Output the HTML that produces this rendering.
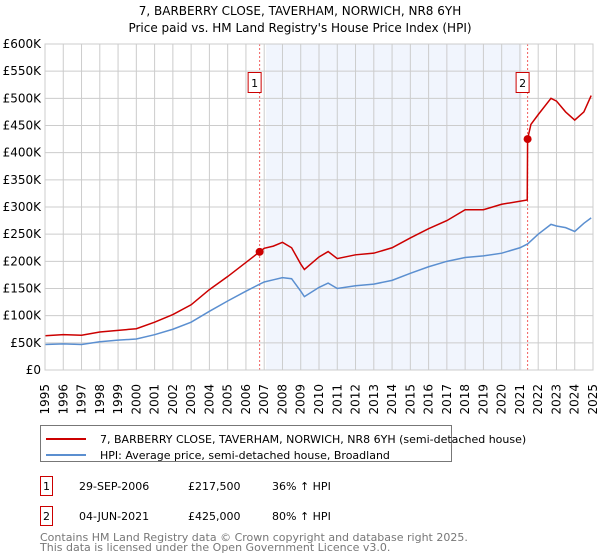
<!DOCTYPE html>
<html><head><meta charset="utf-8"><style>
body{margin:0;background:#fff;}
svg{display:block;font-family:"DejaVu Sans","Liberation Sans",sans-serif;}
</style></head><body>
<svg id="chart" width="600" height="560" viewBox="0 0 600 560">
<text x="300" y="15" text-anchor="middle" font-size="12">7, BARBERRY CLOSE, TAVERHAM, NORWICH, NR8 6YH</text>
<text x="300" y="32" text-anchor="middle" font-size="12">Price paid vs. HM Land Registry's House Price Index (HPI)</text>
<g id="grid"></g><g id="series"></g><g id="axes"></g>
<g>
<rect x="40.5" y="425.5" width="411" height="36" fill="#fff" stroke="#777"/>
<line x1="46" y1="439" x2="86" y2="439" stroke="#cc0000" stroke-width="2"/>
<text x="100" y="443" font-size="11">7, BARBERRY CLOSE, TAVERHAM, NORWICH, NR8 6YH (semi-detached house)</text>
<line x1="46" y1="455" x2="86" y2="455" stroke="#5b8fd0" stroke-width="2"/>
<text x="100" y="459" font-size="11">HPI: Average price, semi-detached house, Broadland</text>
</g>
<g font-size="11">
<rect x="40.5" y="476.5" width="12" height="19" fill="#fff" stroke="#cc0000"/><text x="46.5" y="490" text-anchor="middle">1</text>
<text x="79" y="490">29-SEP-2006</text><text x="188" y="490">£217,500</text><text x="272" y="490">36% ↑ HPI</text>
<rect x="40.5" y="506.5" width="12" height="19" fill="#fff" stroke="#cc0000"/><text x="46.5" y="520" text-anchor="middle">2</text>
<text x="79" y="520">04-JUN-2021</text><text x="188" y="520">£425,000</text><text x="272" y="520">80% ↑ HPI</text>
</g>
<text x="40" y="541" font-size="11" fill="#777">Contains HM Land Registry data © Crown copyright and database right 2025.</text>
<text x="40" y="551" font-size="11" fill="#777">This data is licensed under the Open Government Licence v3.0.</text>
</svg>
<script>
const hpiYears=[1995,1996,1997,1998,1999,2000,2001,2002,2003,2004,2005,2006,2006.75,2007,2007.5,2008,2008.5,2009,2009.2,2010,2010.5,2011,2012,2013,2014,2015,2016,2017,2018,2019,2020,2021,2021.42,2022,2022.7,2023,2023.5,2024,2024.5,2024.9];
const hpiValues=[47000,48000,47000,52000,55000,57000,65000,75000,88000,108000,127000,145000,158000,162000,166000,170000,168000,145000,135000,152000,160000,150000,155000,158000,165000,178000,190000,200000,207000,210000,215000,225000,232000,250000,268000,265000,262000,255000,270000,280000];
const propYears=[1995,1996,1997,1998,1999,2000,2001,2002,2003,2004,2005,2006,2006.75,2007,2007.5,2008,2008.5,2009,2009.2,2010,2010.5,2011,2012,2013,2014,2015,2016,2017,2018,2019,2020,2021.4,2021.42,2021.6,2022,2022.7,2023,2023.5,2024,2024.5,2024.9];
const propValues=[63000,65000,64000,70000,73000,76000,88000,102000,120000,148000,172000,198000,217500,224000,228000,235000,225000,195000,185000,208000,218000,205000,212000,215000,225000,243000,260000,275000,295000,295000,305000,313000,425000,452000,470000,500000,495000,475000,460000,475000,505000];
const saleYears=[2006.75,2021.42];
const saleValues=[217500,425000];
const saleLabels=["1","2"];
const yTicks=[0,50000,100000,150000,200000,250000,300000,350000,400000,450000,500000,550000,600000];
const yTickLabels=["£0","£50K","£100K","£150K","£200K","£250K","£300K","£350K","£400K","£450K","£500K","£550K","£600K"];
const xTicks=[1995,1996,1997,1998,1999,2000,2001,2002,2003,2004,2005,2006,2007,2008,2009,2010,2011,2012,2013,2014,2015,2016,2017,2018,2019,2020,2021,2022,2023,2024,2025];
const X0=45,X1=593,Y0=370,Y1=44;
const xs=y=>X0+(y-1995)/30*(X1-X0);
const ys=v=>Y0-v/600000*(Y0-Y1);
const NS="http://www.w3.org/2000/svg";
function mk(tag,attrs,parent,txt){const e=document.createElementNS(NS,tag);for(const k in attrs)e.setAttribute(k,attrs[k]);if(txt!==undefined)e.textContent=txt;parent.appendChild(e);return e;}
const grid=document.getElementById('grid'),ser=document.getElementById('series'),ax=document.getElementById('axes');
const shade=mk('rect',{x:xs(2007.1),y:Y1,width:xs(2021.1)-xs(2007.1),height:Y0-Y1,fill:'#eef3fc',opacity:0.8},grid);


xTicks.forEach(t=>{const l=mk('line',{x1:xs(t),x2:xs(t),y1:Y1,y2:Y0,stroke:'#ccc'},grid);


const tx0=xs(t)+4,ty0=384;
const tx=mk('text',{x:tx0,y:ty0,'font-size':12,'text-anchor':'end',transform:'rotate(-90,'+tx0+','+ty0+')'},ax,String(t));

});
yTicks.forEach((t,i)=>{const l=mk('line',{x1:X0,x2:X1,y1:ys(t),y2:ys(t),stroke:'#ccc'},grid);


const tx=mk('text',{x:X0-4,y:ys(t)+4,'font-size':12,'text-anchor':'end'},ax,yTickLabels[i]);

});
saleYears.forEach((s,i)=>{const l=mk('line',{x1:xs(s),x2:xs(s),y1:Y1,y2:Y0,stroke:'#f06060','stroke-dasharray':'2,2'},grid);


const b=mk('rect',{x:xs(s)-11.5,y:72.5,width:13,height:20,fill:'#fff',stroke:'#cc0000'},ax);


const t=mk('text',{x:xs(s)-5,y:87,'font-size':11,'text-anchor':'middle'},ax,saleLabels[i]);

});
const hp=mk('polyline',{points:hpiYears.map((y,i)=>xs(y)+','+ys(hpiValues[i])).join(' '),fill:'none',stroke:'#5b8fd0','stroke-width':1.5},ser);


const pp=mk('polyline',{points:propYears.map((y,i)=>xs(y)+','+ys(propValues[i])).join(' '),fill:'none',stroke:'#cc0000','stroke-width':1.5},ser);


saleYears.forEach((s,i)=>{const c=mk('circle',{cx:xs(s),cy:ys(saleValues[i]),r:4,fill:'#cc0000'},ser);

});
const fr=mk('rect',{x:X0,y:Y1,width:X1-X0,height:Y0-Y1,fill:'none',stroke:'#ccc'},ax);


</script>
</body></html>
